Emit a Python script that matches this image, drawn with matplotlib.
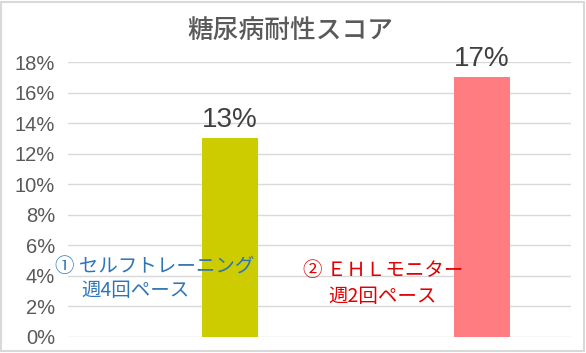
import matplotlib.pyplot as plt
from matplotlib.patches import Rectangle
from matplotlib.ticker import PercentFormatter

plt.rcParams['font.family'] = ['Noto Sans CJK JP', 'DejaVu Sans']

title = '糖尿病耐性スコア'
groups = ['セルフトレーニング', 'EHLモニター']
scores = [13, 17]
bar_colors = ['#CCCC00', '#FF7C80']
yticks = [0, 2, 4, 6, 8, 10, 12, 14, 16, 18]

W, H = 586, 353
fig = plt.figure(figsize=(W / 100, H / 100), dpi=100)
ax = fig.add_axes([68 / W, 16 / H, 503 / W, 275 / H])

x = [0, 1]
ax.bar(x, scores, width=0.222, color=bar_colors, zorder=3)
for xi, v in zip(x, scores):
    ax.annotate(f'{v}%', (xi, v), xytext=(0, 4), textcoords='offset points',
                ha='center', va='bottom', fontsize=20, color='#404040',
                family='Liberation Sans')

ax.set_xlim(-0.643, 1.353)
ax.set_ylim(0, 18)
ax.set_yticks(yticks)
ax.yaxis.set_major_formatter(PercentFormatter(decimals=0))
ax.grid(axis='y', color='#D9D9D9', linewidth=1, zorder=0)
ax.set_xticks([])
ax.tick_params(axis='y', length=0, labelsize=14.5, labelcolor='#595959', pad=9.4)
for lab in ax.get_yticklabels():
    lab.set_family('Liberation Sans')
for s in ax.spines.values():
    s.set_visible(False)

fig.text(290 / W, 1 - 30 / H, title, ha='center', va='center',
         fontsize=18.5, color='#595959', weight='medium')

# annotations
blue = '#2E75B6'
red = '#E00000'
fig.text(55 / W, 1 - 266 / H, '① セルフトレーニング', ha='left', va='center',
         fontsize=14, color=blue, zorder=5)
fig.text(81 / W, 1 - 291 / H, '週4回ペース', ha='left', va='center',
         fontsize=14, color=blue, zorder=5)
fig.text(303 / W, 1 - 271 / H, '② ＥＨＬモニター', ha='left', va='center',
         fontsize=14, color=red, zorder=5)
fig.text(328 / W, 1 - 296 / H, '週2回ペース', ha='left', va='center',
         fontsize=14, color=red, zorder=5)

fig.patches.append(Rectangle((1 / W, 2 / H), 583 / W, 349 / H,
                             transform=fig.transFigure, fill=False,
                             edgecolor='#D9D9D9', linewidth=1.5))

fig.savefig('out.png', dpi=100)
